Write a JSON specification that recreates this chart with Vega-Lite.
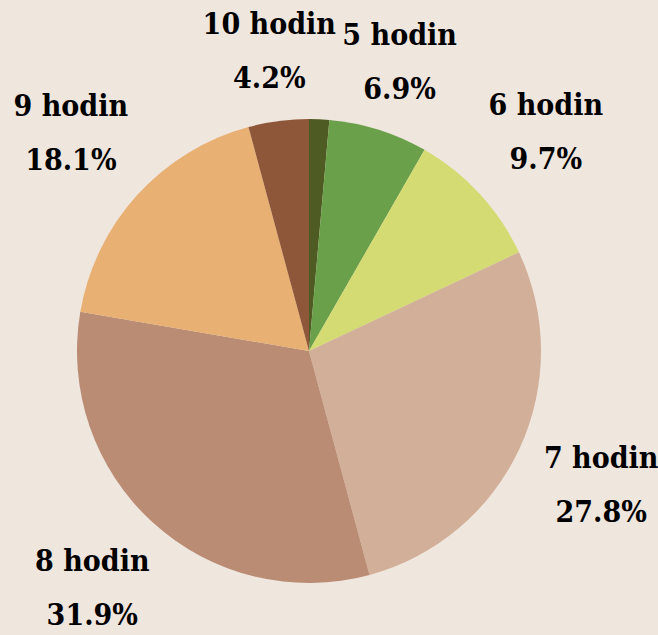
{
  "$schema": "https://vega.github.io/schema/vega-lite/v6.json",
  "width": 600,
  "height": 568,
  "autosize": {"type": "none"},
  "padding": {"left": 9, "top": 67, "right": 49, "bottom": 0},
  "background": "#EFE6DE",
  "config": {"view": {"stroke": null}},
  "data": {"values": [
    {"hodiny": "4 hodin", "podil": 1.4, "poradi": 1, "label": ""},
    {"hodiny": "5 hodin", "podil": 6.9, "poradi": 2, "label": "5 hodin\n6.9%"},
    {"hodiny": "6 hodin", "podil": 9.7, "poradi": 3, "label": "6 hodin\n9.7%"},
    {"hodiny": "7 hodin", "podil": 27.8, "poradi": 4, "label": "7 hodin\n27.8%"},
    {"hodiny": "8 hodin", "podil": 31.9, "poradi": 5, "label": "8 hodin\n31.9%"},
    {"hodiny": "9 hodin", "podil": 18.1, "poradi": 6, "label": "9 hodin\n18.1%"},
    {"hodiny": "10 hodin", "podil": 4.2, "poradi": 7, "label": "10 hodin\n4.2%"}
  ]},
  "encoding": {
    "theta": {"field": "podil", "type": "quantitative", "stack": true},
    "order": {"field": "poradi", "type": "quantitative"}
  },
  "layer": [
    {
      "mark": {"type": "arc", "outerRadius": 232},
      "encoding": {
        "color": {
          "field": "hodiny", "type": "nominal", "legend": null,
          "scale": {
            "domain": ["4 hodin", "5 hodin", "6 hodin", "7 hodin", "8 hodin", "9 hodin", "10 hodin"],
            "range": ["#4E5B22", "#6BA04A", "#D4DB72", "#D2AF98", "#BA8C74", "#E8B072", "#8F573A"]
          }
        }
      }
    },
    {
      "mark": {"type": "text", "radius": 302, "dy": -27, "font": "DejaVu Serif Condensed", "fontWeight": "bold", "fontSize": 30, "lineHeight": 54, "align": "center", "baseline": "middle", "lineBreak": "\n", "color": "#000000"},
      "encoding": {"text": {"condition": {"test": "datum.poradi <= 2 || datum.poradi == 7", "field": "label"}, "value": ""}}
    },
    {
      "mark": {"type": "text", "radius": 322, "dy": -27, "font": "DejaVu Serif Condensed", "fontWeight": "bold", "fontSize": 30, "lineHeight": 54, "align": "center", "baseline": "middle", "lineBreak": "\n", "color": "#000000"},
      "encoding": {"text": {"condition": {"test": "datum.poradi > 2 && datum.poradi < 7", "field": "label"}, "value": ""}}
    }
  ]
}
